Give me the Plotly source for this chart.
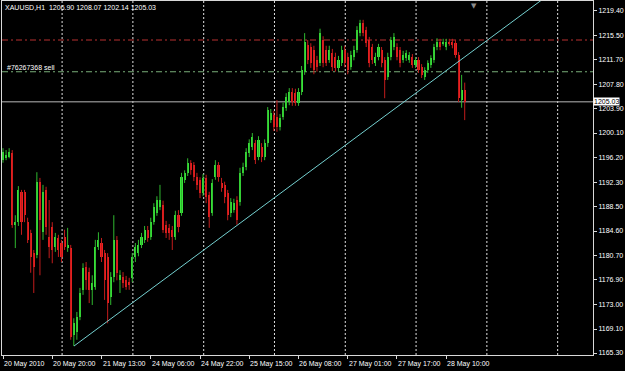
import plotly.graph_objects as go

# ---------------- data (XAUUSD, H1) ----------------
opens = [1195.8,1196.3,1196.3,1196.9,1185.6,1186.0,1190.8,1190.8,1186.0,1184.3,
         1181.1,1180.8,1192.4,1184.4,1191.1,1183.6,1185.2,1182.1,1183.5,1182.7,
         1183.6,1181.9,1181.9,1168.2,1168.6,1171.0,1175.3,1178.9,1178.1,1175.3,
         1175.7,1182.1,1182.7,1181.1,1180.5,1174.2,1177.3,1183.2,1176.8,1177.3,
         1176.8,1176.5,1177.2,1180.5,1181.1,1182.4,1183.2,1184.8,1183.6,1186.0,
         1187.5,1188.4,1188.7,1185.6,1185.1,1184.8,1183.6,1187.1,1187.5,1192.7,
         1193.8,1195.4,1195.0,1193.1,1192.7,1190.6,1193.0,1190.3,1187.5,1193.1,
         1195.0,1192.2,1191.9,1190.6,1187.5,1187.9,1189.5,1189.2,1193.8,1194.7,
         1196.9,1197.9,1198.5,1196.3,1197.9,1196.3,1198.5,1202.2,1203.0,1202.6,
         1201.0,1202.6,1204.1,1205.0,1206.6,1206.4,1204.9,1206.6,1209.8,1214.0,
         1213.7,1213.2,1211.6,1211.2,1214.8,1213.2,1211.6,1212.8,1212.1,1210.4,
         1211.2,1213.2,1212.1,1210.5,1212.1,1213.2,1215.9,1217.5,1216.4,1214.8,
         1213.7,1211.2,1212.1,1213.2,1211.6,1209.0,1212.1,1213.7,1213.7,1213.2,
         1211.6,1212.0,1211.6,1212.1,1210.9,1211.6,1210.5,1209.0,1210.1,1210.9,
         1211.6,1213.7,1214.5,1214.3,1213.7,1214.5,1214.5,1214.3,1212.4,1205.3,
         1206.90]
highs = [1197.7,1197.4,1197.7,1197.4,1187.1,1191.7,1191.1,1191.1,1186.7,1184.8,
         1181.6,1193.9,1193.0,1191.9,1191.6,1189.5,1186.0,1184.3,1184.0,1183.2,
         1184.8,1185.1,1182.4,1170.8,1171.8,1175.6,1179.5,1179.7,1178.8,1177.6,
         1183.2,1184.4,1183.5,1181.6,1181.1,1178.1,1187.1,1183.8,1178.4,1178.1,
         1177.5,1177.2,1181.1,1182.7,1183.2,1184.3,1185.4,1185.4,1186.7,1189.0,
         1190.1,1191.9,1189.4,1186.2,1185.7,1185.4,1187.8,1187.9,1193.8,1194.2,
         1196.1,1195.8,1195.5,1193.8,1193.1,1193.6,1193.5,1190.8,1192.8,1195.8,
         1195.5,1193.0,1192.4,1191.1,1189.8,1189.7,1190.1,1194.6,1195.4,1197.7,
         1199.1,1200.1,1199.0,1199.6,1198.5,1199.1,1204.2,1203.9,1203.6,1205.3,
         1203.1,1204.9,1206.4,1207.2,1207.2,1207.1,1207.2,1210.7,1215.9,1214.8,
         1214.3,1213.9,1212.3,1216.6,1215.4,1213.9,1213.9,1213.4,1212.8,1212.3,
         1213.9,1213.9,1212.8,1213.1,1213.9,1217.0,1218.0,1218.0,1216.9,1215.3,
         1214.2,1212.8,1214.2,1213.7,1212.1,1212.8,1215.3,1215.9,1214.3,1213.7,
         1213.1,1213.2,1212.9,1212.6,1212.1,1212.1,1211.0,1210.5,1211.6,1212.4,
         1214.2,1215.1,1215.0,1215.0,1215.0,1215.0,1215.0,1214.8,1212.9,1209.3,
         1208.07]
lows = [1195.4,1195.8,1196.1,1185.1,1181.9,1185.4,1184.0,1186.0,1182.7,1178.0,
        1174.8,1180.3,1177.6,1183.2,1184.0,1180.3,1179.5,1181.3,1180.5,1179.7,
        1181.6,1181.3,1167.4,1166.4,1167.4,1170.5,1174.5,1175.3,1173.2,1172.9,
        1175.3,1181.6,1179.7,1173.7,1170.0,1172.9,1176.5,1176.8,1174.8,1175.6,
        1175.3,1175.3,1176.5,1179.7,1180.6,1181.9,1182.7,1182.9,1183.2,1185.6,
        1187.0,1187.9,1184.3,1183.5,1183.2,1181.6,1183.2,1184.4,1187.0,1192.2,
        1193.3,1193.5,1192.5,1191.1,1189.8,1190.1,1189.0,1185.1,1187.0,1192.7,
        1192.4,1190.8,1189.0,1186.3,1186.8,1187.5,1185.6,1188.6,1193.3,1194.2,
        1196.3,1197.4,1195.2,1195.8,1195.5,1195.8,1197.9,1201.7,1200.4,1200.3,
        1200.5,1202.2,1203.6,1204.5,1204.4,1204.4,1204.4,1206.1,1209.3,1211.0,
        1210.4,1209.4,1209.8,1210.7,1210.5,1210.7,1211.2,1209.9,1209.8,1209.9,
        1210.7,1210.5,1209.4,1210.1,1211.6,1212.8,1215.4,1215.4,1213.7,1210.5,
        1211.0,1210.7,1211.6,1210.5,1205.6,1208.5,1211.6,1213.2,1211.6,1210.5,
        1211.2,1211.5,1211.2,1210.4,1210.4,1209.6,1208.8,1208.5,1209.6,1210.4,
        1211.2,1213.2,1213.2,1213.9,1213.2,1213.9,1213.5,1212.0,1205.0,1204.1,
        1202.14]
closes = [1197.1,1196.6,1197.1,1185.6,1186.0,1191.1,1186.0,1187.1,1183.2,1180.5,
          1178.9,1192.4,1186.3,1190.8,1185.2,1182.1,1181.6,1183.6,1181.6,1180.5,
          1182.1,1182.4,1167.8,1170.0,1171.0,1174.8,1178.8,1176.8,1175.3,1176.4,
          1182.1,1183.2,1180.5,1176.8,1173.2,1177.3,1183.2,1178.0,1177.6,1176.4,
          1175.7,1176.1,1180.5,1182.1,1182.4,1183.6,1184.8,1183.5,1186.0,1188.4,
          1189.5,1189.5,1184.8,1184.3,1184.3,1183.6,1187.1,1185.2,1193.1,1193.8,
          1195.4,1194.2,1193.1,1191.9,1190.6,1193.0,1190.0,1186.8,1192.2,1195.0,
          1193.1,1191.4,1190.0,1187.1,1189.2,1189.0,1186.3,1193.8,1194.7,1197.1,
          1198.5,1199.5,1195.8,1199.0,1196.3,1198.5,1203.7,1203.3,1201.0,1201.0,
          1202.5,1204.2,1205.8,1206.6,1205.0,1204.9,1206.6,1210.1,1214.5,1211.6,
          1211.2,1210.1,1210.5,1215.9,1211.2,1211.2,1213.2,1210.5,1210.4,1211.6,
          1213.2,1211.2,1210.1,1212.4,1213.2,1216.4,1217.5,1215.9,1214.3,1211.2,
          1211.6,1212.1,1213.7,1211.2,1208.5,1212.1,1214.8,1215.3,1212.1,1211.2,
          1212.4,1212.8,1212.4,1210.9,1211.6,1210.1,1209.3,1210.1,1211.2,1212.0,
          1213.7,1214.5,1213.7,1214.5,1214.5,1214.3,1214.0,1212.4,1205.6,1206.9,
          1205.03]

time_tick_bars = [0, 16, 32, 48, 64, 80, 96, 112, 128, 144]
time_tick_text = ["20 May 2010", "20 May 20:00", "21 May 13:00", "24 May 06:00",
                  "24 May 22:00", "25 May 15:00", "26 May 08:00", "27 May 01:00",
                  "27 May 17:00", "28 May 10:00"]
grid_bars = [19.2, 42.2, 65.2, 88.2, 111.2, 134.2, 157.2, 180.2]
price_ticks = [1219.40, 1215.50, 1211.70, 1207.80, 1203.90, 1200.10, 1196.20, 1192.30,
               1188.50, 1184.60, 1180.70, 1176.90, 1173.00, 1169.10, 1165.30]
trend_bars = [23.07, 176.0]
trend_prices = [1166.41, 1221.5]
sl_level = 1214.81
order_level = 1209.79
order_label = "#76267368 sell"
bid = 1205.03
symbol_text = "XAUUSD,H1  1206.90 1208.07 1202.14 1205.03"

# ---------------- figure ----------------
n = len(closes)
idx = list(range(n))
up = [i for i in idx if closes[i] >= opens[i]]
dn = [i for i in idx if closes[i] < opens[i]]

FONT = "Liberation Sans, Arial, sans-serif"
fig = go.Figure()

def wick_trace(ids, color):
    xs, ys = [], []
    for i in ids:
        xs += [i, i, None]
        ys += [lows[i], highs[i], None]
    return go.Scatter(x=xs, y=ys, mode="lines", line=dict(color=color, width=1),
                      hoverinfo="skip", showlegend=False)

def body_trace(ids, color):
    return go.Bar(x=ids,
                  y=[max(abs(closes[i] - opens[i]), 0.15) for i in ids],
                  base=[min(opens[i], closes[i]) for i in ids],
                  width=0.68, marker=dict(color=color, line=dict(width=0)),
                  showlegend=False)

fig.add_trace(wick_trace(up, "#2fb82f"))
fig.add_trace(wick_trace(dn, "#c21c1c"))
fig.add_trace(body_trace(up, "#3ae63a"))
fig.add_trace(body_trace(dn, "#ee2020"))
fig.add_trace(go.Scatter(x=trend_bars, y=trend_prices, mode="lines",
                         line=dict(color="#74d0d0", width=1), showlegend=False))

shapes = []
for g in grid_bars:
    shapes.append(dict(type="line", xref="x", yref="paper", x0=g, x1=g, y0=0, y1=1,
                       line=dict(color="#e0e0e0", width=1, dash="2px,2px"), layer="below"))
shapes.append(dict(type="line", xref="paper", yref="y", x0=0, x1=1, y0=sl_level, y1=sl_level,
                   line=dict(color="#b83030", width=1, dash="6px,3px,2px,3px"), layer="below"))
shapes.append(dict(type="line", xref="paper", yref="y", x0=0, x1=1, y0=order_level, y1=order_level,
                   line=dict(color="#78ae78", width=1, dash="6px,3px,2px,3px"), layer="below"))
shapes.append(dict(type="line", xref="paper", yref="y", x0=0, x1=1, y0=bid, y1=bid,
                   line=dict(color="#b8b8b8", width=1), layer="below"))

annotations = []
for b, t in zip(time_tick_bars, time_tick_text):
    annotations.append(dict(x=b, xref="x", y=0, yref="paper", text=t, showarrow=False,
                            xanchor="left", yanchor="top", xshift=-1, yshift=-3,
                            font=dict(family=FONT, size=7, color="#ffffff")))
annotations.append(dict(x=0, xref="paper", y=1, yref="paper", text=symbol_text,
                        showarrow=False, xanchor="left", yanchor="top", xshift=1, yshift=-1,
                        font=dict(family=FONT, size=7, color="#ffffff")))
annotations.append(dict(x=0, xref="paper", y=order_level, yref="y", text=order_label,
                        showarrow=False, xanchor="left", yanchor="bottom", xshift=3, yshift=-1,
                        font=dict(family=FONT, size=7, color="#ffffff")))
annotations.append(dict(x=1, xref="paper", y=bid, yref="y", text=f"{bid:.2f}",
                        showarrow=False, xanchor="left", yanchor="middle", xshift=0,
                        bgcolor="#ffffff", borderpad=0,
                        font=dict(family=FONT, size=7, color="#000000")))
annotations.append(dict(x=0.7986, xref="paper", y=1, yref="paper", text="▼",
                        showarrow=False, xanchor="center", yanchor="top", yshift=1,
                        font=dict(family="DejaVu Sans", size=7, color="#8c8c8c")))

fig.update_layout(
    width=625, height=371,
    margin=dict(l=2, r=32, t=1, b=16),
    paper_bgcolor="#000000", plot_bgcolor="#000000",
    barmode="overlay", bargap=0,
    showlegend=False,
    shapes=shapes, annotations=annotations,
    xaxis=dict(range=[-0.325, 191.68], showgrid=False, zeroline=False,
               tickmode="array", tickvals=time_tick_bars, showticklabels=False,
               ticks="outside", ticklen=3, tickcolor="#d8d8d8",
               showline=True, linecolor="#d8d8d8", linewidth=1, mirror=True),
    yaxis=dict(range=[1164.99, 1220.98], side="right", showgrid=False, zeroline=False,
               tickmode="array", tickvals=price_ticks,
               ticktext=[f"{p:.2f}" for p in price_ticks],
               ticks="outside", ticklen=3, tickcolor="#d8d8d8",
               tickfont=dict(family=FONT, size=7, color="#ffffff"),
               showline=True, linecolor="#d8d8d8", linewidth=1, mirror=True),
)

fig.write_html("out.html")
